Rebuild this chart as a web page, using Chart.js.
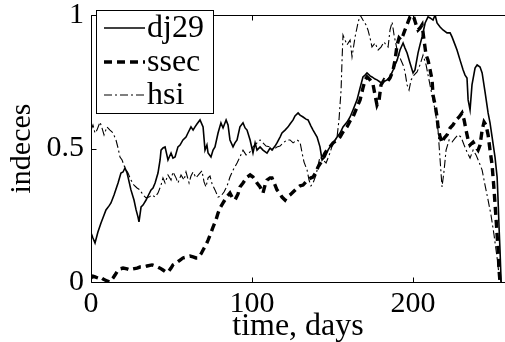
<!DOCTYPE html>
<html><head><meta charset="utf-8">
<script src="https://cdn.jsdelivr.net/npm/chart.js@4.4.1/dist/chart.umd.min.js"></script>
<style>html,body{margin:0;padding:0;background:#fff;overflow:hidden}</style>
</head><body>
<canvas id="c" width="505" height="342" style="display:block;width:505px;height:342px"></canvas>
<script>
const seriesNames = ['dj29', 'ssec', 'hsi'];
const xTicks = [0, 100, 200];
const yTicks = [0, 0.5, 1];
const yTickLabels = ['0', '0.5', '1'];
const xMax = 257.1;

// [day, normalised index]
const dj29 = [
[0,.184],[1.2,.165],[2.5,.146],[4.3,.187],[6.2,.221],[8.1,.251],[9.3,.270],[11.2,.285],[12.4,.296],[14.3,.326],[16.8,.371],[18.6,.408],[19.9,.412],[21.1,.427],[22.4,.408],[23.0,.393],[24.8,.345],[26.7,.307],[28.0,.270],[29.2,.243],[29.8,.225],[31.1,.281],[32.3,.288],[34.2,.307],[35.4,.322],[37.3,.345],[38.5,.352],[39.8,.371],[41.6,.408],[42.9,.457],[43.5,.494],[44.7,.502],[46.0,.506],[47.8,.457],[49.7,.483],[50.9,.464],[52.2,.468],[54.0,.506],[55.3,.513],[57.1,.532],[59.0,.543],[60.2,.558],[62.1,.581],[63.4,.569],[64.6,.581],[65.8,.592],[67.7,.607],[69.6,.581],[70.8,.494],[72.0,.513],[72.7,.483],[74.5,.468],[75.8,.494],[77.0,.506],[78.9,.558],[80.7,.596],[82.0,.577],[83.9,.607],[85.1,.588],[86.3,.532],[88.2,.506],[89.4,.521],[90.7,.532],[92.5,.581],[94.4,.596],[95.7,.577],[96.9,.569],[98.8,.532],[100.6,.483],[101.9,.521],[103.1,.494],[105.0,.506],[106.8,.494],[109.3,.483],[111.2,.502],[112.4,.494],[114.3,.509],[115.5,.521],[117.4,.543],[118.6,.558],[120.5,.569],[122.4,.581],[123.6,.592],[125.5,.607],[126.7,.622],[128.6,.633],[129.8,.625],[131.7,.618],[133.5,.610],[134.8,.607],[136.6,.584],[137.9,.569],[140.4,.543],[142.2,.506],[143.5,.457],[145.3,.468],[147.2,.494],[148.4,.506],[150.9,.524],[152.8,.543],[154.7,.558],[156.5,.581],[159.0,.599],[160.9,.618],[162.7,.644],[165.2,.682],[167.1,.727],[168.9,.768],[170.2,.775],[171.4,.783],[173.3,.772],[174.5,.768],[176.4,.760],[177.6,.757],[179.5,.749],[180.7,.745],[182.6,.753],[183.9,.757],[185.7,.768],[187.6,.794],[188.8,.813],[190.1,.831],[191.9,.869],[193.8,.895],[195.0,.876],[196.3,.858],[198.1,.820],[200.0,.783],[201.2,.794],[203.1,.858],[204.3,.888],[205.6,.918],[207.5,.970],[209.3,.993],[210.6,.989],[212.4,.981],[213.7,1.0],[214.9,.970],[216.8,.955],[218.6,.944],[221.1,.933],[223.0,.933],[224.2,.918],[226.1,.888],[227.3,.869],[229.2,.831],[231.1,.794],[232.3,.775],[233.5,.764],[234.2,.682],[235.4,.644],[236.6,.738],[238.5,.801],[239.8,.813],[241.6,.805],[242.9,.783],[244.7,.712],[246.6,.633],[247.8,.596],[249.1,.543],[250.9,.468],[252.2,.393],[252.8,.307],[253.4,.206],[254.0,.120],[254.7,0]
];
const ssec = [
[0,.015],[1.2,.022],[2.5,.019],[4.3,.015],[5.6,.019],[7.5,.011],[9.9,.004],[11.8,0],[13.7,.015],[14.9,.026],[16.8,.045],[18.0,.049],[19.9,.052],[22.4,.049],[24.2,.045],[26.1,.049],[28.6,.052],[30.4,.056],[32.3,.056],[34.8,.060],[37.9,.064],[39.8,.060],[41.6,.056],[42.9,.052],[44.7,.045],[46.6,.037],[47.8,.037],[49.7,.052],[50.9,.064],[52.8,.071],[55.3,.082],[57.1,.090],[59.6,.094],[61.5,.097],[63.4,.094],[65.2,.090],[66.5,.090],[68.3,.105],[69.6,.120],[71.4,.139],[72.7,.157],[74.5,.184],[75.8,.206],[77.6,.232],[78.9,.258],[80.1,.277],[82.0,.296],[83.9,.315],[86.3,.333],[87.6,.318],[89.4,.307],[91.3,.330],[92.5,.356],[94.4,.371],[96.9,.393],[98.8,.401],[100.6,.393],[101.9,.382],[103.1,.371],[105.0,.356],[106.8,.333],[108.1,.363],[109.3,.382],[111.2,.390],[112.4,.390],[114.3,.363],[115.5,.345],[117.4,.330],[118.6,.318],[120.5,.307],[121.7,.318],[123.6,.326],[125.5,.337],[128.0,.352],[129.8,.360],[131.7,.363],[133.5,.375],[134.8,.382],[136.6,.390],[137.9,.393],[139.8,.412],[141.0,.431],[142.9,.449],[144.1,.468],[145.3,.483],[146.6,.494],[148.4,.506],[150.3,.521],[152.8,.532],[154.7,.543],[156.5,.562],[159.0,.581],[160.9,.603],[162.7,.618],[165.2,.655],[167.1,.682],[168.9,.727],[170.2,.757],[171.4,.768],[173.3,.757],[175.2,.738],[176.4,.700],[177.6,.663],[178.9,.682],[180.1,.738],[182.0,.757],[183.9,.749],[185.7,.764],[187.6,.794],[188.8,.831],[190.1,.888],[191.3,.914],[192.5,.906],[193.8,.925],[195.0,.944],[196.9,.974],[198.1,.993],[199.4,1.0],[200.6,.989],[201.9,.963],[203.1,.944],[204.3,.951],[205.6,.963],[206.8,.906],[208.1,.850],[209.3,.831],[210.6,.794],[211.8,.757],[212.4,.700],[213.7,.663],[214.9,.618],[215.5,.581],[216.8,.543],[218.0,.521],[219.3,.539],[221.1,.551],[223.0,.577],[224.8,.588],[226.7,.607],[228.6,.618],[230.4,.633],[231.7,.607],[232.9,.569],[234.2,.532],[235.4,.513],[237.3,.524],[239.1,.506],[240.4,.494],[241.6,.513],[242.9,.569],[244.1,.599],[245.3,.588],[246.6,.551],[247.8,.494],[249.1,.438],[250.3,.345],[251.6,.232],[252.8,.120],[253.4,.045],[254.0,0]
];
const hsi = [
[0,.569],[1.2,.588],[2.5,.558],[3.7,.569],[5.6,.599],[6.8,.577],[8.1,.551],[9.9,.581],[11.8,.569],[13.7,.558],[15.5,.532],[16.8,.502],[18.0,.468],[19.3,.457],[21.1,.427],[23.0,.408],[24.8,.382],[26.7,.363],[28.6,.352],[30.4,.345],[32.3,.326],[34.2,.315],[36.0,.318],[37.9,.326],[39.8,.318],[41.6,.333],[43.5,.363],[44.7,.390],[46.0,.371],[47.8,.401],[49.7,.382],[50.9,.412],[52.8,.390],[54.0,.371],[55.9,.401],[57.8,.382],[59.0,.412],[60.9,.371],[62.1,.397],[63.4,.412],[65.2,.390],[67.1,.404],[68.9,.416],[70.2,.375],[71.4,.356],[72.7,.390],[73.9,.397],[75.2,.367],[77.0,.345],[78.9,.318],[80.7,.322],[82.6,.337],[84.5,.360],[86.3,.393],[88.2,.419],[90.7,.446],[92.5,.468],[94.4,.494],[96.3,.476],[98.8,.487],[100.6,.506],[103.1,.521],[105.0,.532],[106.8,.521],[108.7,.509],[111.2,.506],[113.0,.494],[115.5,.506],[117.4,.509],[119.3,.521],[121.7,.532],[123.6,.532],[125.5,.521],[128.0,.532],[129.8,.524],[131.1,.483],[132.3,.449],[134.2,.419],[135.4,.382],[136.6,.360],[137.9,.371],[139.8,.401],[141.0,.438],[142.2,.468],[144.1,.457],[146.0,.446],[148.4,.483],[150.3,.521],[152.8,.543],[154.0,.607],[155.3,.719],[155.9,.831],[156.5,.925],[157.8,.906],[159.0,.888],[160.9,.906],[162.1,.843],[164.0,.918],[165.8,.970],[167.1,1.0],[168.9,.981],[170.8,.963],[172.0,.944],[173.3,.914],[174.5,.880],[176.4,.895],[178.3,.869],[180.1,.880],[182.0,.899],[183.2,.888],[184.5,.880],[185.7,.944],[187.0,.974],[188.2,.925],[190.1,.869],[191.9,.839],[193.8,.813],[195.0,.787],[196.3,.738],[197.5,.719],[198.8,.757],[200.6,.775],[202.5,.787],[204.3,.813],[206.2,.850],[208.1,.813],[209.9,.757],[211.8,.700],[213.7,.644],[215.5,.569],[216.8,.457],[218.0,.356],[219.3,.419],[220.5,.494],[222.4,.532],[224.2,.524],[226.1,.539],[228.0,.551],[229.8,.543],[231.7,.513],[233.5,.487],[235.4,.464],[237.3,.494],[239.1,.476],[241.0,.449],[242.9,.419],[244.7,.363],[246.6,.307],[248.4,.251],[250.3,.176],[252.2,.090],[253.4,.026],[254.7,0]
];

const FONT = 'Liberation Serif, Times New Roman, serif';
const toPts = arr => arr.map(p => ({x: p[0], y: p[1]}));

const styles = [
  {borderWidth: 1.6, borderDash: []},
  {borderWidth: 3.4, borderDash: [8, 5]},
  {borderWidth: 1.1, borderDash: [8, 3, 2, 3]}
];

const framePlugin = {
  id: 'frame',
  afterDatasetsDraw(chart) {
    const {ctx, chartArea: a, scales: {x, y}} = chart;
    const L = Math.round(a.left) + 0.5, T = Math.round(a.top) + 0.5;
    const B = Math.round(a.bottom) + 0.5;
    ctx.save();
    ctx.strokeStyle = '#000';
    ctx.lineWidth = 1;
    ctx.setLineDash([]);
    ctx.beginPath();
    ctx.moveTo(L, B); ctx.lineTo(L, T); ctx.lineTo(a.right + 2, T);
    ctx.moveTo(L, B); ctx.lineTo(a.right + 2, B);
    xTicks.forEach(v => {
      const px = Math.round(x.getPixelForValue(v)) + 0.5;
      ctx.moveTo(px, B); ctx.lineTo(px, B - 5);
      ctx.moveTo(px, T); ctx.lineTo(px, T + 5);
    });
    yTicks.forEach(v => {
      const py = Math.round(y.getPixelForValue(v)) + 0.5;
      ctx.moveTo(L, py); ctx.lineTo(L + 5, py);
    });
    ctx.stroke();
    ctx.restore();
  },
  afterDraw(chart) {
    const {ctx} = chart;
    const bx = 96.5, by = 10.5, bw = 117, bh = 103;
    ctx.save();
    ctx.fillStyle = '#fff';
    ctx.fillRect(bx, by, bw, bh);
    ctx.strokeStyle = '#000';
    ctx.lineWidth = 1;
    ctx.setLineDash([]);
    ctx.strokeRect(bx, by, bw, bh);
    const rows = [28, 62, 95];
    chart.data.datasets.forEach((ds, i) => {
      ctx.beginPath();
      ctx.lineWidth = ds.borderWidth;
      ctx.setLineDash(ds.borderDash || []);
      ctx.moveTo(104, rows[i]); ctx.lineTo(145, rows[i]);
      ctx.stroke();
      ctx.setLineDash([]);
      ctx.fillStyle = '#000';
      ctx.font = '32px ' + FONT;
      ctx.textBaseline = 'alphabetic';
      ctx.textAlign = 'left';
      ctx.fillText(ds.label, 147, rows[i] + 9);
    });
    ctx.restore();
  }
};

new Chart(document.getElementById('c'), {
  type: 'line',
  data: {
    datasets: [dj29, ssec, hsi].map((d, i) => ({
      label: seriesNames[i],
      data: toPts(d),
      borderColor: '#000',
      backgroundColor: '#000',
      borderWidth: styles[i].borderWidth,
      borderDash: styles[i].borderDash,
      pointRadius: 0,
      tension: 0,
      fill: false
    }))
  },
  options: {
    responsive: false,
    animation: false,
    devicePixelRatio: 1,
    layout: {padding: {top: 15, right: 0, left: 0, bottom: 0}},
    plugins: {legend: {display: false}, tooltip: {enabled: false}},
    scales: {
      x: {
        type: 'linear', min: 0, max: xMax,
        afterBuildTicks: s => { s.ticks = xTicks.map(v => ({value: v})); },
        afterFit: s => { s.height = 60; s.paddingLeft = 0; s.paddingRight = 0; },
        grid: {display: false, drawTicks: false},
        border: {display: false},
        ticks: {font: {family: FONT, size: 30}, color: '#000', padding: 4, maxRotation: 0, autoSkip: false},
        title: {display: true, text: 'time, days', color: '#000', font: {family: FONT, size: 32}, padding: {top: 0, bottom: -4}}
      },
      y: {
        min: 0, max: 1,
        afterBuildTicks: s => { s.ticks = yTicks.map(v => ({value: v})); },
        afterFit: s => { s.width = 91; s.paddingTop = 0; s.paddingBottom = 0; },
        grid: {display: false, drawTicks: false},
        border: {display: false},
        ticks: {font: {family: FONT, size: 30}, color: '#000', padding: 7, autoSkip: false,
          callback: v => yTickLabels[yTicks.indexOf(v)] ?? String(v)},
        title: {display: true, text: 'indeces', color: '#000', font: {family: FONT, size: 30}, padding: {top: 4, bottom: 0}}
      }
    }
  },
  plugins: [framePlugin]
});
</script>
</body></html>
